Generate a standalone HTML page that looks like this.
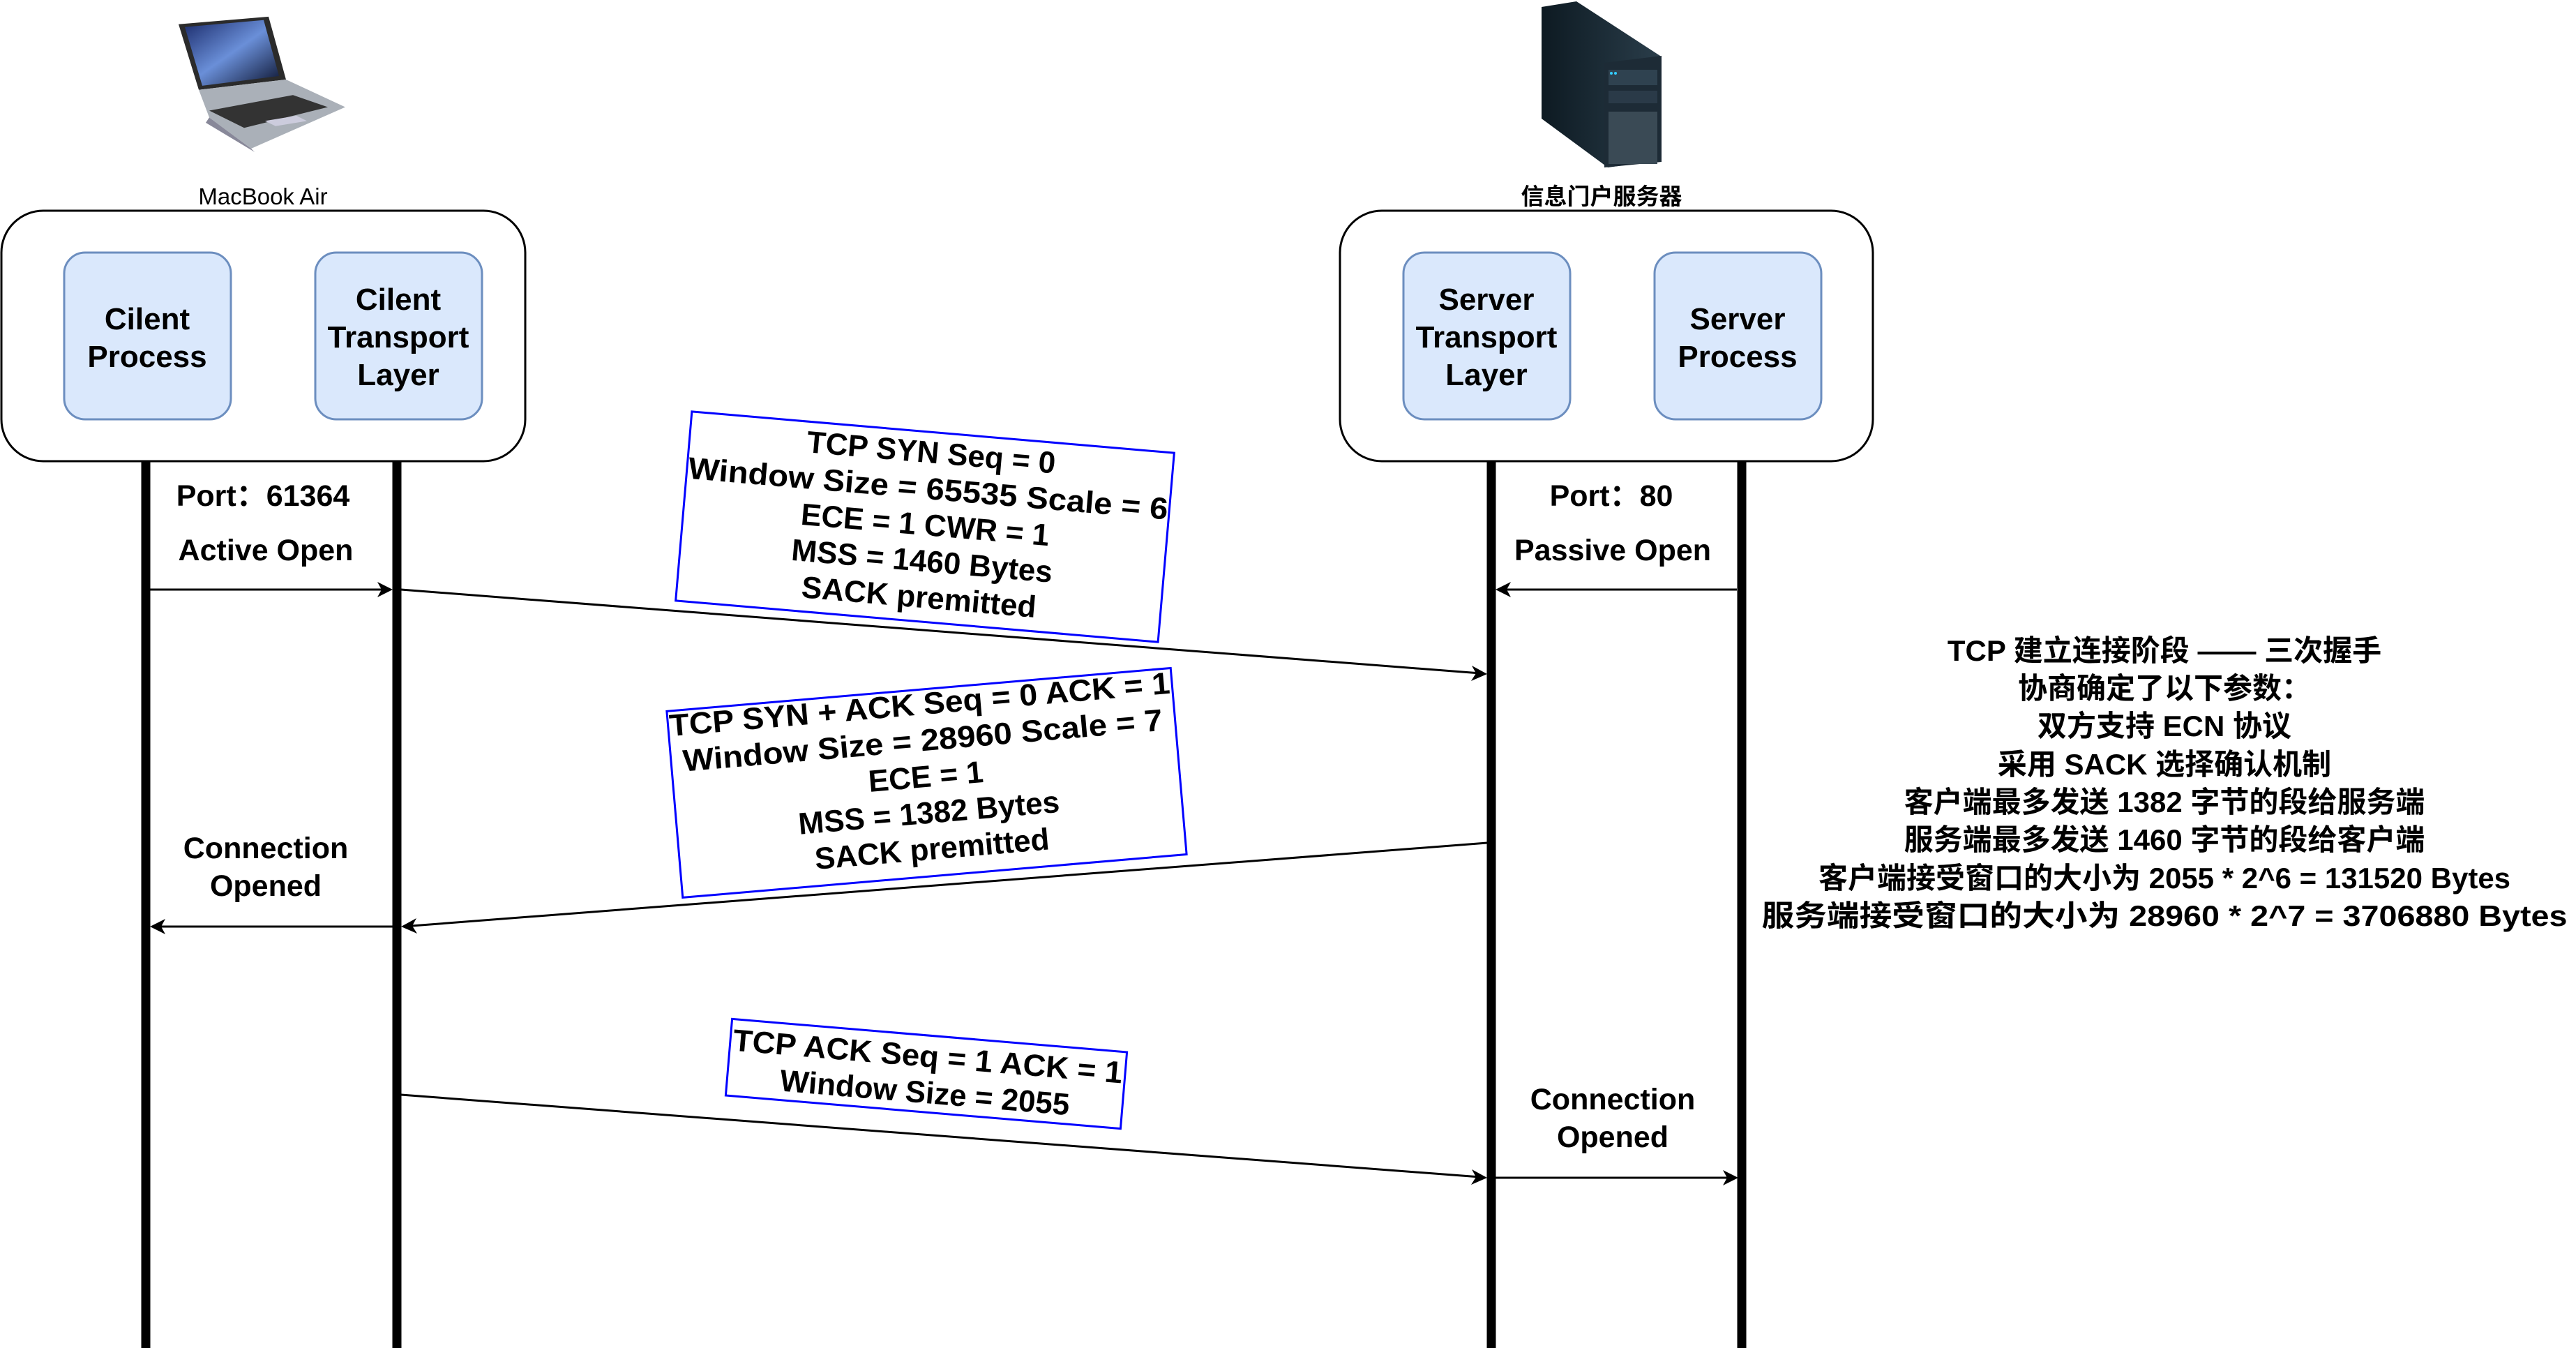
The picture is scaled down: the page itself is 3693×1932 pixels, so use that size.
<!DOCTYPE html>
<html><head><meta charset="utf-8"><style>
html,body{margin:0;padding:0;background:#fff;width:3693px;height:1932px;overflow:hidden}
svg text{font-family:"Liberation Sans","Noto Sans CJK SC",sans-serif;fill:#000;font-weight:bold}
</style></head><body>
<svg width="3693" height="1932" viewBox="0 0 3693 1932" xmlns="http://www.w3.org/2000/svg">
<defs>
<linearGradient id="scr" x1="0" y1="0" x2="1" y2="1"><stop offset="0" stop-color="#1a2a6a"/><stop offset=".5" stop-color="#6a8fd8"/><stop offset="1" stop-color="#0c1430"/></linearGradient>
<linearGradient id="srv" x1="0" y1="0" x2="1" y2="0"><stop offset="0" stop-color="#0d1a22"/><stop offset="1" stop-color="#2a3d4a"/></linearGradient>
</defs>

<!-- laptop icon -->
<g transform="translate(0,10) scale(1,0.495)">
<polygon points="256,50 385,28 410,210 285,240" fill="#2b2b2b"/>
<polygon points="265,58 378,38 400,200 290,228" fill="url(#scr)"/>
<polygon points="285,240 410,210 495,290 360,410 300,320" fill="#aab0b8"/>
<polygon points="300,300 420,255 470,290 350,350" fill="#333"/>
<polygon points="380,330 425,315 440,330 395,345" fill="#ccd"/>
<polygon points="300,320 360,410 365,420 295,335" fill="#889"/>
</g>
<!-- server icon -->
<g>
<polygon points="2210,10 2260,2 2380,80 2380,230 2305,240 2210,170" fill="url(#srv)"/>
<polygon points="2300,90 2382,80 2382,232 2300,240" fill="#1d2b36"/>
<rect x="2306" y="100" width="70" height="22" fill="#2f4250"/>
<rect x="2306" y="130" width="70" height="18" fill="#2a3a48"/>
<rect x="2306" y="160" width="70" height="75" fill="#3a4a55"/>
<circle cx="2310" cy="105" r="2" fill="#3cf"/><circle cx="2316" cy="105" r="2" fill="#3cf"/>
</g>

<text x="377" y="293" font-size="33" text-anchor="middle" style="font-weight:normal">MacBook Air</text>
<text x="2296" y="293" font-size="33" text-anchor="middle">信息门户服务器</text>

<rect x="2" y="302" width="751" height="359" rx="60" fill="#fff" stroke="#000" stroke-width="3"/>
<rect x="1921" y="302" width="764" height="359" rx="60" fill="#fff" stroke="#000" stroke-width="3"/>

<g fill="#dae8fc" stroke="#6c8ebf" stroke-width="3">
<rect x="92" y="362" width="239" height="239" rx="30"/>
<rect x="452" y="362" width="239" height="239" rx="30"/>
<rect x="2012" y="362" width="239" height="239" rx="30"/>
<rect x="2372" y="362" width="239" height="239" rx="30"/>
</g>
<g font-size="44" text-anchor="middle">
<text x="211" y="472">Cilent</text><text x="211" y="526">Process</text>
<text x="571" y="444">Cilent</text><text x="571" y="498">Transport</text><text x="571" y="552">Layer</text>
<text x="2131" y="444">Server</text><text x="2131" y="498">Transport</text><text x="2131" y="552">Layer</text>
<text x="2491" y="472">Server</text><text x="2491" y="526">Process</text>
</g>

<g stroke="#000" stroke-width="13">
<line x1="209" y1="661" x2="209" y2="1932"/>
<line x1="569" y1="661" x2="569" y2="1932"/>
<line x1="2138" y1="661" x2="2138" y2="1932"/>
<line x1="2497" y1="661" x2="2497" y2="1932"/>
</g>

<g font-size="43" text-anchor="middle">
<text x="377" y="725">Port：61364</text>
<text x="381" y="803">Active Open</text>
<text x="2310" y="725">Port：80</text>
<text x="2312" y="803">Passive Open</text>
<text x="381" y="1230">Connection</text><text x="381" y="1284">Opened</text>
<text x="2312" y="1590">Connection</text><text x="2312" y="1644">Opened</text>
</g>

<g stroke="#000" stroke-width="3" fill="none">
<line x1="215" y1="845" x2="555" y2="845"/>
<line x1="2490" y1="845" x2="2152" y2="845"/>
<line x1="575" y1="845" x2="2122" y2="965"/>
<line x1="2132" y1="1208" x2="590" y2="1327"/>
<line x1="563" y1="1328" x2="225" y2="1328"/>
<line x1="575" y1="1569" x2="2122" y2="1687"/>
<line x1="2144" y1="1688" x2="2482" y2="1688"/>
</g>
<g fill="#000">
<polygon points="563,845 541,834 547,845 541,856"/>
<polygon points="2144,845 2166,834 2160,845 2166,856"/>
<polygon points="2132,966 2110,954 2116,965 2109,976"/>
<polygon points="575,1328 597,1316 591,1327 598,1338"/>
<polygon points="215,1328 237,1317 231,1328 237,1339"/>
<polygon points="2132,1688 2110,1676 2116,1687 2109,1698"/>
<polygon points="2492,1688 2470,1677 2476,1688 2470,1699"/>
</g>

<g transform="translate(1326,755) rotate(4.9)">
<rect x="-347" y="-136" width="694" height="272" fill="#fff" stroke="#0000ff" stroke-width="3"/>
<g font-size="44" text-anchor="middle">
<text x="0" y="-92">TCP SYN Seq = 0</text>
<text x="0" y="-40" textLength="690" lengthAdjust="spacingAndGlyphs">Window Size = 65535 Scale = 6</text>
<text x="0" y="12">ECE = 1 CWR = 1</text>
<text x="0" y="64">MSS = 1460 Bytes</text>
<text x="0" y="116">SACK premitted</text>
</g>
</g>
<g transform="translate(1328,1122) rotate(-4.9)">
<rect x="-362" y="-134" width="725" height="268" fill="#fff" stroke="#0000ff" stroke-width="3"/>
<g font-size="44" text-anchor="middle">
<text x="0" y="-98" textLength="720" lengthAdjust="spacingAndGlyphs">TCP SYN + ACK Seq = 0 ACK = 1</text>
<text x="0" y="-46" textLength="690" lengthAdjust="spacingAndGlyphs">Window Size = 28960 Scale = 7</text>
<text x="0" y="6">ECE = 1</text>
<text x="0" y="58">MSS = 1382 Bytes</text>
<text x="0" y="110">SACK premitted</text>
</g>
</g>
<g transform="translate(1328,1539) rotate(4.8)">
<rect x="-284" y="-55" width="568" height="110" fill="#fff" stroke="#0000ff" stroke-width="3"/>
<g font-size="44" text-anchor="middle">
<text x="0" y="-10" textLength="560" lengthAdjust="spacingAndGlyphs">TCP ACK Seq = 1 ACK = 1</text>
<text x="0" y="42">Window Size = 2055</text>
</g>
</g>

<g font-size="42" text-anchor="middle">
<text x="3103" y="947">TCP 建立连接阶段 —— 三次握手</text>
<text x="3103" y="1001">协商确定了以下参数：</text>
<text x="3103" y="1055">双方支持 ECN 协议</text>
<text x="3103" y="1110">采用 SACK 选择确认机制</text>
<text x="3103" y="1164">客户端最多发送 1382 字节的段给服务端</text>
<text x="3103" y="1218">服务端最多发送 1460 字节的段给客户端</text>
<text x="3103" y="1273">客户端接受窗口的大小为 2055 * 2^6 = 131520 Bytes</text>
<text x="3103" y="1327" textLength="1155" lengthAdjust="spacingAndGlyphs">服务端接受窗口的大小为 28960 * 2^7 = 3706880 Bytes</text>
</g>
</svg>
</body></html>
